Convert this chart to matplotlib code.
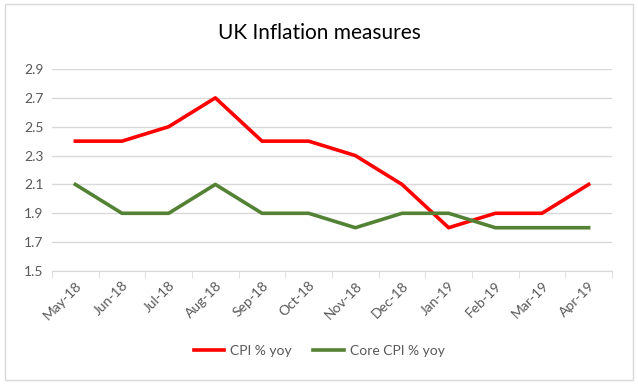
import numpy as np
import matplotlib.pyplot as plt
from matplotlib.patches import Rectangle

months = ["May-18", "Jun-18", "Jul-18", "Aug-18", "Sep-18", "Oct-18",
          "Nov-18", "Dec-18", "Jan-19", "Feb-19", "Mar-19", "Apr-19"]
cpi = [2.4, 2.4, 2.5, 2.7, 2.4, 2.4, 2.3, 2.1, 1.8, 1.9, 1.9, 2.1]
core_cpi = [2.1, 1.9, 1.9, 2.1, 1.9, 1.9, 1.8, 1.9, 1.9, 1.8, 1.8, 1.8]
y_ticks = [1.5, 1.7, 1.9, 2.1, 2.3, 2.5, 2.7, 2.9]

plt.rcParams['font.family'] = ['Lato', 'DejaVu Sans']

fig = plt.figure(figsize=(6.38, 3.84), dpi=100)
fig.patches.append(Rectangle((5 / 638, 4 / 384), 628 / 638, 376 / 384,
                             transform=fig.transFigure, fill=False,
                             edgecolor='#d9d9d9', linewidth=1))

ax = fig.add_axes([52 / 638, 1 - 271 / 384, 560 / 638, 202 / 384])
x = np.arange(len(months))
ax.plot(x, cpi, color='#ff0000', linewidth=2.6, label='CPI % yoy')
ax.plot(x, core_cpi, color='#548235', linewidth=2.6, label='Core CPI % yoy')

ax.set_xlim(-0.5, len(months) - 0.5)
ax.set_ylim(1.5, 2.9)
ax.set_yticks(y_ticks)
ax.set_yticklabels([f"{v:.1f}" for v in y_ticks])
ax.set_xticks(x)
ax.set_xticklabels(months, rotation=45, ha='right', rotation_mode='anchor')
ax.set_xticks(np.arange(-0.5, len(months)), minor=True)

ax.grid(axis='y', color='#d9d9d9', linewidth=1)
ax.set_axisbelow(True)
for s in ['top', 'right', 'left']:
    ax.spines[s].set_visible(False)
ax.spines['bottom'].set_color('#d9d9d9')
ax.tick_params(axis='y', length=0, labelsize=10, labelcolor='#595959', pad=6)
ax.tick_params(axis='x', which='major', length=0, labelsize=10,
               labelcolor='#595959', pad=6)
ax.tick_params(axis='x', which='minor', length=5, color='#d9d9d9')

fig.text(0.5, 1 - 33 / 384, 'UK Inflation measures', ha='center', va='center',
         fontsize=15, color='#000000')

ax.legend(loc='center', bbox_to_anchor=(0.5, 1 - 351 / 384),
          bbox_transform=fig.transFigure, ncol=2, frameon=False,
          fontsize=10, handlelength=2.2, columnspacing=1.6, handletextpad=0.4,
          labelcolor='#595959')

fig.savefig('out.png', dpi=100)
